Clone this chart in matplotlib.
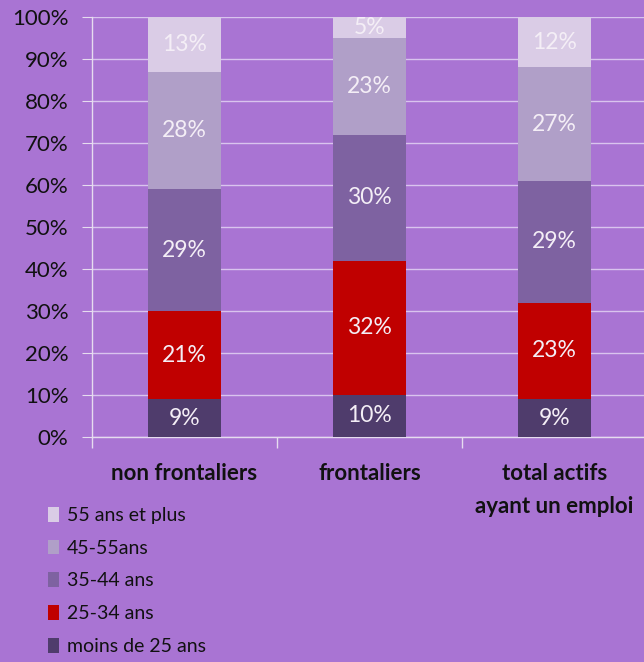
import matplotlib.pyplot as plt
from matplotlib.patches import Patch
import numpy as np

# categories (x axis) and series, bottom to top
categories = ["non frontaliers", "frontaliers", "total actifs\nayant un emploi"]
series_names = ["moins de 25 ans", "25-34 ans", "35-44 ans", "45-55ans", "55 ans et plus"]
moins_25 = [9, 10, 9]
ans_25_34 = [21, 32, 23]
ans_35_44 = [29, 30, 29]
ans_45_55 = [28, 23, 27]
ans_55_plus = [13, 5, 12]
series_values = [moins_25, ans_25_34, ans_35_44, ans_45_55, ans_55_plus]
yticks = [0, 10, 20, 30, 40, 50, 60, 70, 80, 90, 100]

colors = ["#4f3c6c", "#c00000", "#7e62a1", "#b09fc8", "#dacce6"]
bg = "#a974d3"
fnt = "Lato"

fig = plt.figure(figsize=(6.44, 6.62), dpi=100, facecolor=bg)
ax = fig.add_axes([92 / 644, 225 / 662, 555 / 644, 420 / 662])
ax.set_facecolor(bg)

x = np.arange(len(categories))
bottom = np.zeros(len(categories))
for name, vals, col in zip(series_names, series_values, colors):
    vals = np.array(vals, dtype=float)
    ax.bar(x, vals, width=0.395, bottom=bottom, color=col, label=name, zorder=3)
    for xi, b, v in zip(x, bottom, vals):
        ax.text(xi, b + v / 2, f"{v:.0f}%", ha="center", va="center",
                color="#f4eef6", fontsize=16.5, family=fnt, zorder=4)
    bottom += vals

ax.set_xlim(-0.5, 2.5)
ax.set_ylim(0, 100)
ax.set_yticks(yticks)
ax.set_yticklabels([f"{t}%" for t in yticks], fontsize=16, family=fnt, color="#111111")
ax.grid(axis="y", color="#d9c4ee", linewidth=1, zorder=0)

ax.set_xticks(x)
ax.set_xticklabels(categories, fontsize=16, family=fnt, fontweight="bold",
                   color="#111111", linespacing=1.7)
ax.tick_params(axis="x", which="major", length=0, pad=19)
ax.set_xticks([-0.5, 0.5, 1.5, 2.5], minor=True)
ax.tick_params(axis="x", which="minor", length=8, color="#e6dcef", width=1)
ax.tick_params(axis="y", length=7, color="#e6dcef", pad=10)

for s in ["top", "right"]:
    ax.spines[s].set_visible(False)
for s in ["left", "bottom"]:
    ax.spines[s].set_color("#e6dcef")
    ax.spines[s].set_linewidth(1)

handles = [Patch(facecolor=c, edgecolor="none") for c in colors][::-1]
labels = series_names[::-1]
leg = fig.legend(handles, labels, loc="upper left", bbox_to_anchor=(40 / 644, 1 - 499 / 662),
                 frameon=False, prop={"family": fnt, "size": 14},
                 handlelength=0.6, handleheight=0.8, handletextpad=0.4,
                 labelspacing=0.8, borderaxespad=0)
for t in leg.get_texts():
    t.set_color("#111111")

fig.savefig("out.png", dpi=100, facecolor=bg)
